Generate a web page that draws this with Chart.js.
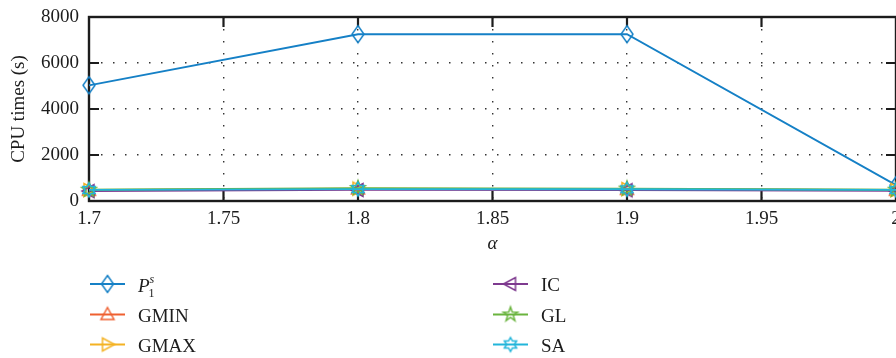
<!DOCTYPE html>
<html>
<head>
<meta charset="utf-8">
<script src="https://cdn.jsdelivr.net/npm/chart.js@4/dist/chart.umd.min.js"></script>
<style>
  html, body { margin: 0; padding: 0; background: #fff; overflow: hidden; }
  canvas { display: block; }
</style>
</head>
<body>
<canvas id="cpu" width="896" height="358"></canvas>
<script>
// α values on the horizontal axis
const alphaValues = [1.7, 1.8, 1.9, 2.0];

// CPU times (s) for each method
const p1s  = [5030, 7250, 7250, 690];
const gmin = [470, 530, 510, 470];
const gmax = [480, 540, 520, 480];
const ic   = [430, 480, 470, 440];
const gl   = [490, 560, 540, 490];
const sa   = [480, 520, 510, 480];

// axis ticks
const xTickValues = [1.7, 1.75, 1.8, 1.85, 1.9, 1.95, 2.0];
const xTickLabels = ['1.7', '1.75', '1.8', '1.85', '1.9', '1.95', '2'];
const yTickValues = [0, 2000, 4000, 6000, 8000];
const yTickLabels = ['0', '2000', '4000', '6000', '8000'];

const FONT = '"Liberation Serif", "Times New Roman", serif';
const INK = '#1c1c1c';

// ---- marker glyphs (outlined, no fill) ----
function markerCanvas(shape, color) {
  const c = document.createElement('canvas');
  c.width = 22; c.height = 22;
  const g = c.getContext('2d');
  g.translate(11, 11);
  g.strokeStyle = color;
  g.lineWidth = 1.5;
  g.lineJoin = 'miter';
  g.beginPath();
  const star = (n, ro, ri, rot) => {
    for (let i = 0; i < 2 * n; i++) {
      const r = i % 2 === 0 ? ro : ri;
      const a = rot + i * Math.PI / n;
      const x = r * Math.cos(a), y = r * Math.sin(a);
      if (i === 0) g.moveTo(x, y); else g.lineTo(x, y);
    }
    g.closePath();
  };
  switch (shape) {
    case 'diamond':
      g.moveTo(0, -8.5); g.lineTo(6, 0); g.lineTo(0, 8.5); g.lineTo(-6, 0); g.closePath();
      break;
    case 'up':
      g.moveTo(0, -7); g.lineTo(6.5, 5); g.lineTo(-6.5, 5); g.closePath();
      break;
    case 'right':
      g.moveTo(7, 0); g.lineTo(-5, -6.5); g.lineTo(-5, 6.5); g.closePath();
      break;
    case 'left':
      g.moveTo(-7, 0); g.lineTo(5, -6.5); g.lineTo(5, 6.5); g.closePath();
      break;
    case 'pentagram':
      star(5, 7.5, 3, -Math.PI / 2);
      break;
    case 'hexagram':
      star(6, 7, 4, -Math.PI / 2);
      break;
  }
  g.stroke();
  return c;
}

const seriesDefs = [
  { label: 'P1s',  data: p1s,  color: '#1580c6', shape: 'diamond' },
  { label: 'GMIN', data: gmin, color: '#ef6030', shape: 'up' },
  { label: 'GMAX', data: gmax, color: '#f4b223', shape: 'right' },
  { label: 'IC',   data: ic,   color: '#7e3a8f', shape: 'left' },
  { label: 'GL',   data: gl,   color: '#6ab43e', shape: 'pentagram' },
  { label: 'SA',   data: sa,   color: '#22b5da', shape: 'hexagram' }
];
seriesDefs.forEach(s => { s.marker = markerCanvas(s.shape, s.color); });

const datasets = seriesDefs.map((s, i) => ({
  label: s.label,
  data: alphaValues.map((a, k) => ({ x: a, y: s.data[k] })),
  borderColor: s.color,
  borderWidth: 1.8,
  pointStyle: s.marker,
  pointRadius: 7,
  tension: 0,
  fill: false,
  clip: false,
  order: seriesDefs.length - i
}));

// ---- axes box with inward tick marks ----
const framePlugin = {
  id: 'frame',
  beforeDatasetsDraw(chart) {
    const { ctx, chartArea: a, scales: { x, y } } = chart;
    ctx.save();
    ctx.strokeStyle = INK;
    ctx.lineWidth = 2.4;
    ctx.strokeRect(a.left, a.top, a.right - a.left, a.bottom - a.top);
    ctx.lineWidth = 2.2;
    ctx.beginPath();
    xTickValues.slice(1, -1).forEach(v => {
      const px = x.getPixelForValue(v);
      ctx.moveTo(px, a.bottom); ctx.lineTo(px, a.bottom - 10);
      ctx.moveTo(px, a.top); ctx.lineTo(px, a.top + 10);
    });
    yTickValues.slice(1, -1).forEach(v => {
      const py = y.getPixelForValue(v);
      ctx.moveTo(a.left, py); ctx.lineTo(a.left + 10, py);
      ctx.moveTo(a.right, py); ctx.lineTo(a.right - 10, py);
    });
    ctx.stroke();
    ctx.restore();
  }
};

// ---- α title and two-column legend ----
const legendPlugin = {
  id: 'belowLegend',
  afterDraw(chart) {
    const { ctx, chartArea: a } = chart;
    ctx.save();
    ctx.fillStyle = INK;
    ctx.textBaseline = 'alphabetic';
    ctx.textAlign = 'center';
    ctx.font = 'italic 19px ' + FONT;
    ctx.fillText('α', (a.left + a.right) / 2, 249);

    const cols = [90, 493];
    const rows = [284, 314.5, 344.5];
    seriesDefs.forEach((s, i) => {
      const x0 = cols[Math.floor(i / 3)];
      const yr = rows[i % 3];
      ctx.strokeStyle = s.color;
      ctx.lineWidth = 1.8;
      ctx.beginPath();
      ctx.moveTo(x0, yr); ctx.lineTo(x0 + 35, yr);
      ctx.stroke();
      ctx.drawImage(s.marker, x0 + 17.5 - 11, yr - 11);
      ctx.textAlign = 'left';
      ctx.fillStyle = INK;
      const tx = x0 + 48;
      if (s.label === 'P1s') {
        ctx.font = 'italic 19px ' + FONT;
        ctx.fillText('P', tx, yr + 8);
        const pw = ctx.measureText('P').width;
        ctx.font = 'italic 12px ' + FONT;
        ctx.fillText('s', tx + pw, yr - 1);
        ctx.font = '12px ' + FONT;
        ctx.fillText('1', tx + pw - 1, yr + 12.5);
      } else {
        ctx.font = '19px ' + FONT;
        ctx.fillText(s.label, tx, yr + 7);
      }
    });
    ctx.restore();
  }
};

new Chart(document.getElementById('cpu'), {
  type: 'line',
  data: { datasets },
  options: {
    responsive: false,
    animation: false,
    devicePixelRatio: 1,
    layout: { autoPadding: false, padding: { top: 17, right: 0, bottom: 0, left: 0 } },
    plugins: { legend: { display: false }, tooltip: { enabled: false } },
    scales: {
      x: {
        type: 'linear',
        min: 1.7,
        max: 2.0,
        afterBuildTicks(scale) { scale.ticks = xTickValues.map(v => ({ value: v })); },
        afterFit(scale) { scale.height = 157; scale.paddingLeft = 0; scale.paddingRight = 0; },
        ticks: {
          color: INK,
          font: { family: FONT, size: 19 },
          padding: 7,
          maxRotation: 0,
          callback: (v, i) => xTickLabels[i]
        },
        grid: {
          drawTicks: false,
          color: ctx => (ctx.index === 0 || ctx.index === xTickValues.length - 1) ? 'rgba(0,0,0,0)' : '#333333',
          lineWidth: 1.4
        },
        border: { display: false, dash: [1.5, 10.5] }
      },
      y: {
        type: 'linear',
        min: 0,
        max: 8000,
        afterBuildTicks(scale) { scale.ticks = yTickValues.map(v => ({ value: v })); },
        afterFit(scale) { scale.width = 89; scale.paddingTop = 0; scale.paddingBottom = 0; },
        ticks: {
          color: INK,
          font: { family: FONT, size: 19 },
          padding: 10,
          callback: (v, i) => yTickLabels[i]
        },
        title: {
          display: true,
          text: 'CPU times (s)',
          color: INK,
          font: { family: FONT, size: 19 },
          padding: { top: 8, bottom: 0 }
        },
        grid: {
          drawTicks: false,
          color: ctx => (ctx.index === 0 || ctx.index === yTickValues.length - 1) ? 'rgba(0,0,0,0)' : '#333333',
          lineWidth: 1.4
        },
        border: { display: false, dash: [1.5, 10.5] }
      }
    }
  },
  plugins: [framePlugin, legendPlugin]
});
</script>
</body>
</html>
